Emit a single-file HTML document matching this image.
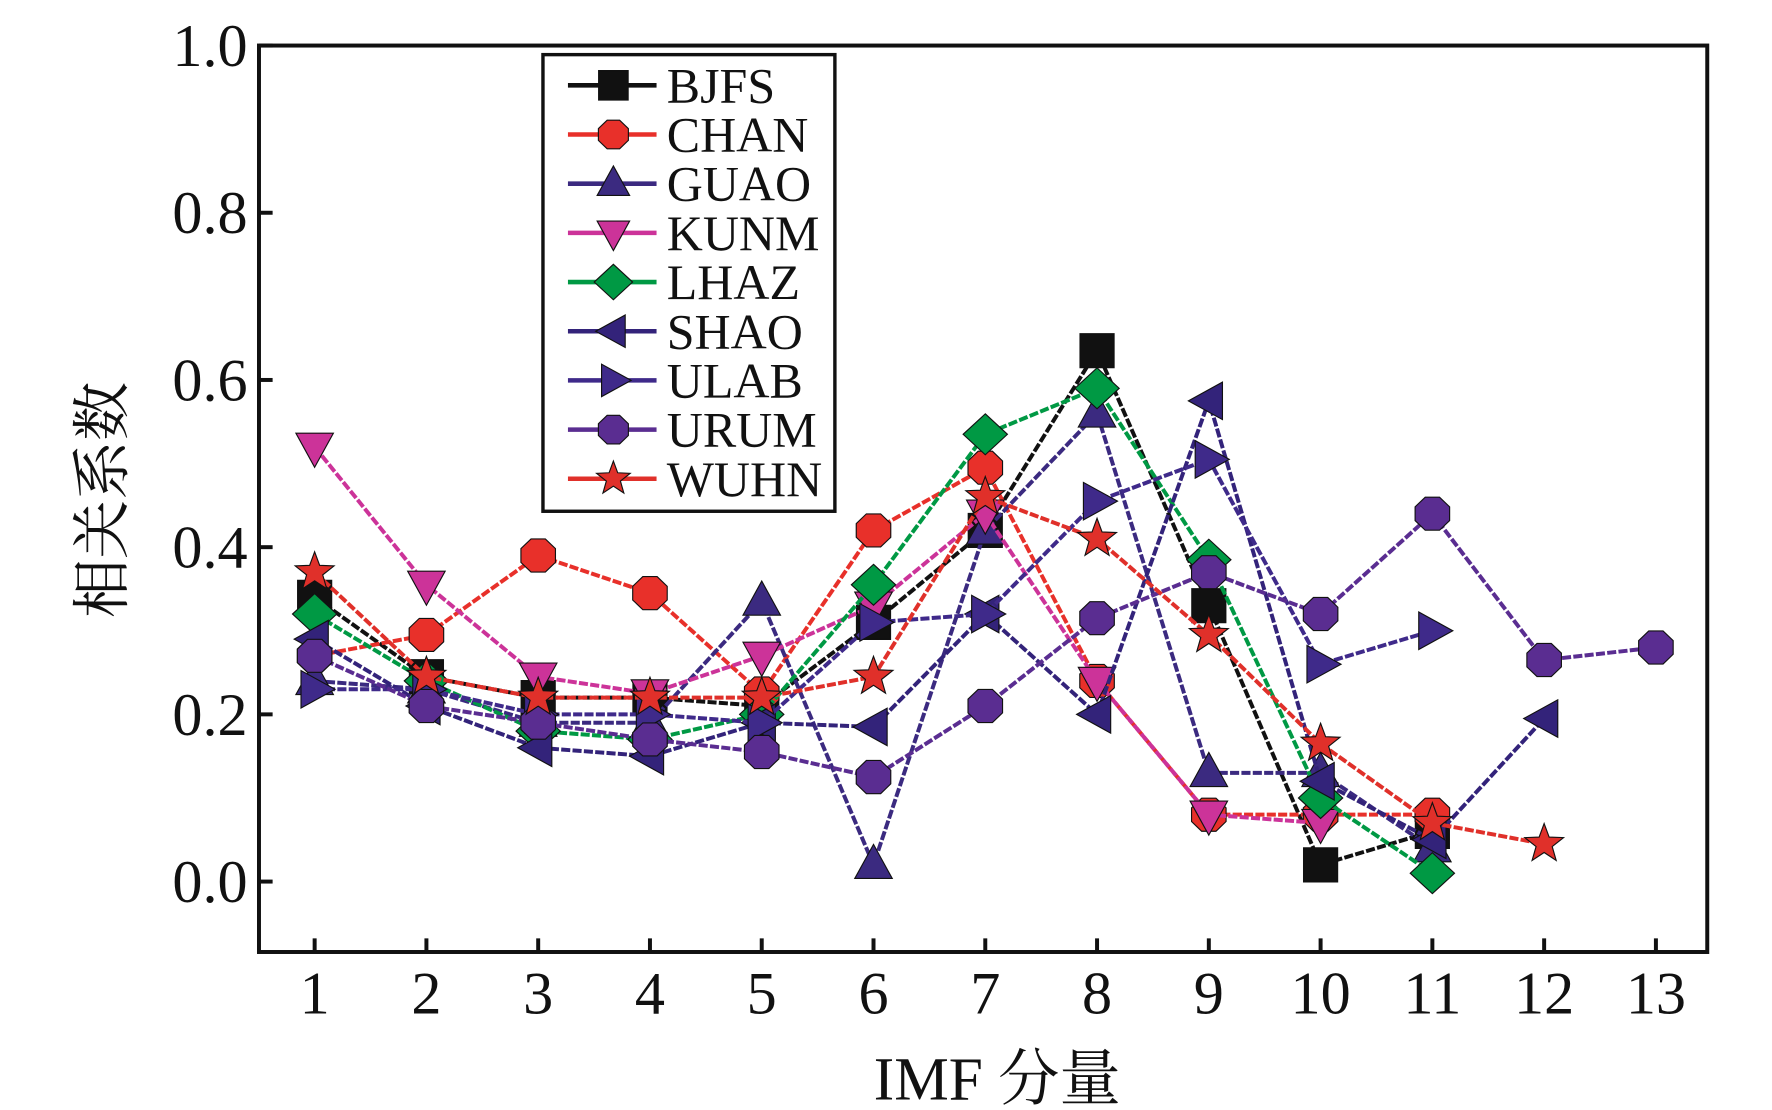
<!DOCTYPE html>
<html><head><meta charset="utf-8"><style>
html,body{margin:0;padding:0;background:#fff;}
svg{display:block;}
text{font-family:"Liberation Serif","Noto Serif CJK SC",serif;fill:#111;}
</style></head><body>
<svg id="chart" width="1772" height="1110" viewBox="0 0 1560 977" xmlns="http://www.w3.org/2000/svg">
<rect x="0" y="0" width="1560" height="977" fill="#fff"/>
<g id="series"></g>
<rect x="228" y="40" width="1275" height="798" fill="none" stroke="#111" stroke-width="3.5"/>
<g id="axes"></g>
<text transform="translate(108,440) rotate(-90)" font-size="52" text-anchor="middle">相关系数</text>
<text x="878" y="968" font-size="54" text-anchor="middle">IMF 分量</text>
<g id="legend"></g>
</svg>
<script>
const categories = [1,2,3,4,5,6,7,8,9,10,11,12,13];
const yTicks = [0.0,0.2,0.4,0.6,0.8,1.0];
const yTickLabels = ["0.0","0.2","0.4","0.6","0.8","1.0"];
const seriesNames = ["BJFS","CHAN","GUAO","KUNM","LHAZ","SHAO","ULAB","URUM","WUHN"];
const bjfs = [0.34,0.245,0.22,0.22,0.21,0.31,0.42,0.635,0.33,0.02,0.06];
const chan = [0.27,0.295,0.39,0.345,0.225,0.42,0.495,0.24,0.08,0.08,0.08];
const guao = [0.24,0.23,0.19,0.19,0.335,0.02,0.42,0.56,0.13,0.13,0.04];
const kunm = [0.52,0.355,0.245,0.225,0.27,0.33,0.44,0.24,0.08,0.07];
const lhaz = [0.32,0.24,0.18,0.17,0.2,0.355,0.535,0.59,0.385,0.1,0.01];
const shao = [0.29,0.21,0.16,0.15,0.19,0.185,0.32,0.2,0.575,0.12,0.05,0.195];
const ulab = [0.23,0.23,0.2,0.2,0.19,0.31,0.32,0.455,0.505,0.26,0.3];
const urum = [0.27,0.21,0.19,0.17,0.155,0.125,0.21,0.315,0.37,0.32,0.44,0.265,0.28];
const wuhn = [0.37,0.245,0.22,0.22,0.22,0.245,0.46,0.41,0.295,0.165,0.07,0.045];

const NS="http://www.w3.org/2000/svg";
const X0=277, XS=98.4, Y0=776, YS=736;
function xPos(c){return X0+(c-1)*XS;}
function yPos(v){return Y0-v*YS;}
function mk(tag,attrs,parent){const e=document.createElementNS(NS,tag);for(const k in attrs)e.setAttribute(k,attrs[k]);parent.appendChild(e);return e;}

const styles=[
 {d:bjfs,c:"#111111",m:"square"},
 {d:chan,c:"#e8302a",m:"circle"},
 {d:guao,c:"#3b2a80",m:"up"},
 {d:kunm,c:"#cc3399",m:"down"},
 {d:lhaz,c:"#009944",m:"diamond"},
 {d:shao,c:"#33237a",m:"left"},
 {d:ulab,c:"#3f2a8a",m:"right"},
 {d:urum,c:"#5a2d91",m:"hex"},
 {d:wuhn,c:"#e0302a",m:"star"}
];
function markerPath(type,x,y,r){
 const p=[];
 if(type==="square")return `M${x-r},${y-r}H${x+r}V${y+r}H${x-r}Z`;
 if(type==="up")return `M${x},${y-r*1.2}L${x+r*1.1},${y+r*0.8}L${x-r*1.1},${y+r*0.8}Z`;
 if(type==="down")return `M${x},${y+r*1.2}L${x+r*1.1},${y-r*0.8}L${x-r*1.1},${y-r*0.8}Z`;
 if(type==="left")return `M${x-r*1.2},${y}L${x+r*0.8},${y-r*1.1}L${x+r*0.8},${y+r*1.1}Z`;
 if(type==="right")return `M${x+r*1.2},${y}L${x-r*0.8},${y-r*1.1}L${x-r*0.8},${y+r*1.1}Z`;
 if(type==="diamond")return `M${x},${y-r*1.2}L${x+r*1.3},${y}L${x},${y+r*1.2}L${x-r*1.3},${y}Z`;
 if(type==="circle"||type==="hex"){for(let i=0;i<8;i++){const a=Math.PI/8+i*Math.PI/4;p.push((x+r*1.1*Math.cos(a)).toFixed(1)+","+(y+r*1.05*Math.sin(a)).toFixed(1));}return "M"+p.join("L")+"Z";}
 if(type==="star"){for(let i=0;i<10;i++){const a=-Math.PI/2+i*Math.PI/5;const rr=i%2?r*0.5:r*1.2;p.push((x+rr*Math.cos(a)).toFixed(1)+","+(y+rr*Math.sin(a)).toFixed(1));}return "M"+p.join("L")+"Z";}
}
const sg=document.getElementById("series");
styles.forEach((s,i)=>{
 const g=mk("g",{},sg);
 
 
 const pts=s.d.map((v,j)=>xPos(categories[j]).toFixed(1)+","+yPos(v).toFixed(1)).join(" ");
 const line=mk("polyline",{points:pts,fill:"none",stroke:s.c,"stroke-width":3.5,"stroke-dasharray":"8 2"},g);
 
 
 s.d.forEach((v,j)=>{
  const m=mk("path",{d:markerPath(s.m,xPos(categories[j]),yPos(v),15),fill:s.c,stroke:"#111","stroke-width":1},g);
  
  
 });
});
const ax=document.getElementById("axes");
categories.forEach(c=>{
 const t=mk("line",{x1:xPos(c),x2:xPos(c),y1:838,y2:826,stroke:"#111","stroke-width":3.5},ax);
 
 
 const l=mk("text",{x:xPos(c),y:892,"font-size":53,"text-anchor":"middle"},ax);
 l.textContent=c;
 
 
});
yTicks.forEach((v,i)=>{
 const t=mk("line",{x1:228,x2:240,y1:yPos(v),y2:yPos(v),stroke:"#111","stroke-width":3.5},ax);
 
 
 const l=mk("text",{x:218,y:yPos(v)+18,"font-size":53,"text-anchor":"end"},ax);
 l.textContent=yTickLabels[i];
 
 
});
const lg=document.getElementById("legend");
const box=mk("rect",{x:478,y:48,width:257,height:402,fill:"#fff",stroke:"#111","stroke-width":3},lg);


styles.forEach((s,i)=>{
 const y=75+i*43.3;
 const g=mk("g",{},lg);
 
 
 mk("line",{x1:500,x2:578,y1:y,y2:y,stroke:s.c,"stroke-width":4},g);
 mk("path",{d:markerPath(s.m,540,y,13),fill:s.c,stroke:"#111","stroke-width":1},g);
 const t=mk("text",{x:587,y:y+15,"font-size":44,textLength:s.m?null:null},g);
 t.removeAttribute("textLength");
 t.textContent=seriesNames[i];
});
</script>
</body></html>
